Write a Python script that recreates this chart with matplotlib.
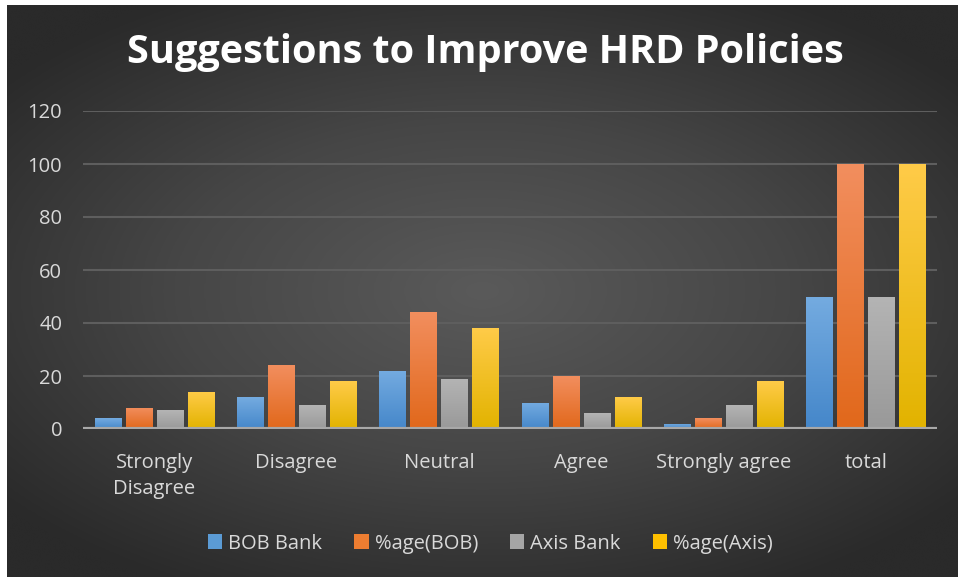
import numpy as np
import matplotlib
matplotlib.use('Agg')
import matplotlib.pyplot as plt
from matplotlib.colors import LinearSegmentedColormap
from matplotlib.patches import Patch

# chart data
categories = ['Strongly\nDisagree', 'Disagree', 'Neutral', 'Agree', 'Strongly agree', 'total']
bob_bank = [4, 12, 22, 10, 2, 50]
pct_bob = [8, 24, 44, 20, 4, 100]
axis_bank = [7, 9, 19, 6, 9, 50]
pct_axis = [14, 18, 38, 12, 18, 100]
series_names = ['BOB Bank', '%age(BOB)', 'Axis Bank', '%age(Axis)']
y_ticks = [0, 20, 40, 60, 80, 100, 120]

# (top colour, bottom colour, legend colour) for every series
colors = [('#74abe0', '#4587ca', '#5b9bd5'),
          ('#f28e5e', '#e1681b', '#ed7d31'),
          ('#b4b4b4', '#999999', '#a5a5a5'),
          ('#ffcb48', '#e2b300', '#ffc000')]

plt.rcParams['font.family'] = ['Open Sans', 'DejaVu Sans']
text_col = '#d9d9d9'

fig = plt.figure(figsize=(9.58, 5.77), dpi=100, facecolor='white')

# dark radial background
bg = fig.add_axes([7 / 958, 0, 951 / 958, 572 / 577])
yy, xx = np.mgrid[-1:1:300j, -1:1:500j]
r = np.sqrt((xx * 1.0) ** 2 + (yy * 1.1) ** 2)
bg_cmap = LinearSegmentedColormap.from_list('bg', ['#5a5a5a', '#464646', '#2a2a2a'])
bg.imshow(r, cmap=bg_cmap, vmin=0, vmax=1.3, aspect='auto', interpolation='bicubic')
bg.axis('off')

ax = fig.add_axes([83 / 958, 1 - 429 / 577, 854 / 958, 318 / 577])
ax.set_facecolor('none')

x = np.arange(len(categories))
width = 0.183
step = 0.218
all_series = [bob_bank, pct_bob, axis_bank, pct_axis]

for i, vals in enumerate(all_series):
    top, bottom, mid = colors[i]
    bars = ax.bar(x + (i - 1.5) * step, vals, width, color=mid, zorder=3)
    cmap = LinearSegmentedColormap.from_list('g%d' % i, [bottom, top])
    grad = np.linspace(0, 1, 100).reshape(-1, 1)
    for b in bars:
        bx, bw, bh = b.get_x(), b.get_width(), b.get_height()
        im = ax.imshow(grad, cmap=cmap, origin='lower', aspect='auto',
                       extent=[bx, bx + bw, 0, bh], zorder=4)
        im.set_clip_path(b)

ax.set_xlim(-0.5, len(categories) - 0.5)
ax.set_ylim(0, 120)
ax.set_yticks(y_ticks)
ax.set_xticks(x)
ax.set_xticklabels(categories, fontsize=14.5, color=text_col, linespacing=1.45)
ax.tick_params(axis='y', labelsize=14.5, labelcolor=text_col, length=0, pad=15)
ax.tick_params(axis='x', length=0, pad=17)
ax.grid(axis='y', color='#5e5e5e', lw=1.5, zorder=0)
ax.axhline(0, color='#a8a8a8', lw=3, zorder=5)
for s in ax.spines.values():
    s.set_visible(False)

fig.text(0.507, 0.909, 'Suggestions to Improve HRD Policies', color='white',
         fontsize=28.5, fontweight='bold', ha='center', va='center')

handles = [Patch(facecolor=c[2], edgecolor='none') for c in colors]
leg = fig.legend(handles, series_names, loc='center', bbox_to_anchor=(0.512, 0.058),
                 ncol=4, frameon=False, fontsize=14.5, handlelength=0.7, handleheight=0.7,
                 handletextpad=0.3, columnspacing=1.6)
for t in leg.get_texts():
    t.set_color(text_col)

fig.savefig('out.png', dpi=100, facecolor='white')
